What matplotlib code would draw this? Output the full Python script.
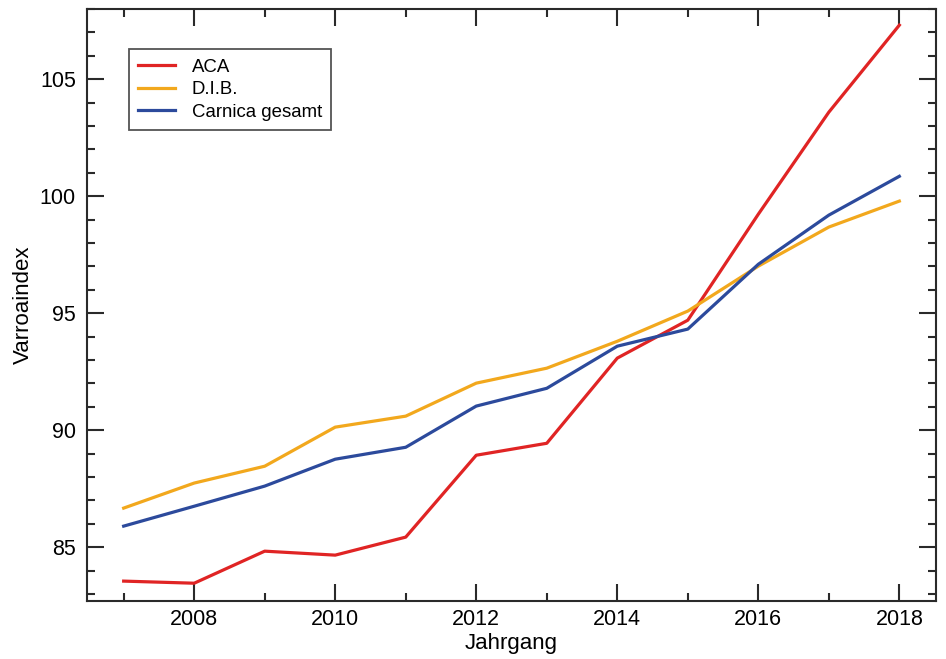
import matplotlib
matplotlib.use("Agg")
import matplotlib.pyplot as plt
from matplotlib.ticker import MultipleLocator

plt.rcParams['font.family'] = ['Liberation Sans', 'DejaVu Sans']

years = [2007, 2008, 2009, 2010, 2011, 2012, 2013, 2014, 2015, 2016, 2017, 2018]
aca = [83.55, 83.46, 84.83, 84.66, 85.43, 88.93, 89.44, 93.08, 94.70, 99.23, 103.59, 107.31]
dib = [86.67, 87.74, 88.46, 90.13, 90.60, 92.01, 92.65, 93.80, 95.09, 97.01, 98.68, 99.79]
carnica = [85.90, 86.75, 87.61, 88.76, 89.27, 91.03, 91.79, 93.59, 94.32, 97.09, 99.19, 100.85]
labels = ["ACA", "D.I.B.", "Carnica gesamt"]
colors = ["#e02424", "#f2a81d", "#2c4a9c"]

fig = plt.figure(figsize=(9.46, 6.59), dpi=100)
ax = fig.add_axes([87/946, 1 - 601/659, (936-87)/946, (601-9)/659])

for vals, lab, col in zip([aca, dib, carnica], labels, colors):
    ax.plot(years, vals, color=col, lw=2.3, label=lab)

ax.set_xlim(2006.48, 2018.52)
ax.set_ylim(82.7, 108.0)
ax.xaxis.set_major_locator(MultipleLocator(2))
ax.xaxis.set_minor_locator(MultipleLocator(1))
ax.yaxis.set_major_locator(MultipleLocator(5))
ax.yaxis.set_minor_locator(MultipleLocator(1))
ax.tick_params(which='both', direction='in', top=True, right=True, width=1.5, color='#2a2a2a')
ax.tick_params(which='major', length=12, labelsize=15.5, pad=6)
ax.tick_params(axis='y', which='major', pad=8)
ax.tick_params(which='minor', length=6)
for s in ax.spines.values():
    s.set_linewidth(1.5)
    s.set_color('#2a2a2a')

ax.set_xlabel("Jahrgang", fontsize=16, labelpad=2)
ax.set_ylabel("Varroaindex", fontsize=16, labelpad=4)

leg = ax.legend(loc='upper left', bbox_to_anchor=(0.049, 0.932), fontsize=13.4,
                frameon=True, fancybox=False, edgecolor='#2a2a2a', handlelength=2.0,
                borderpad=0.5, labelspacing=0.3, handletextpad=0.9, borderaxespad=0)
leg.get_frame().set_linewidth(1.3)

fig.savefig("out.png", dpi=100)
